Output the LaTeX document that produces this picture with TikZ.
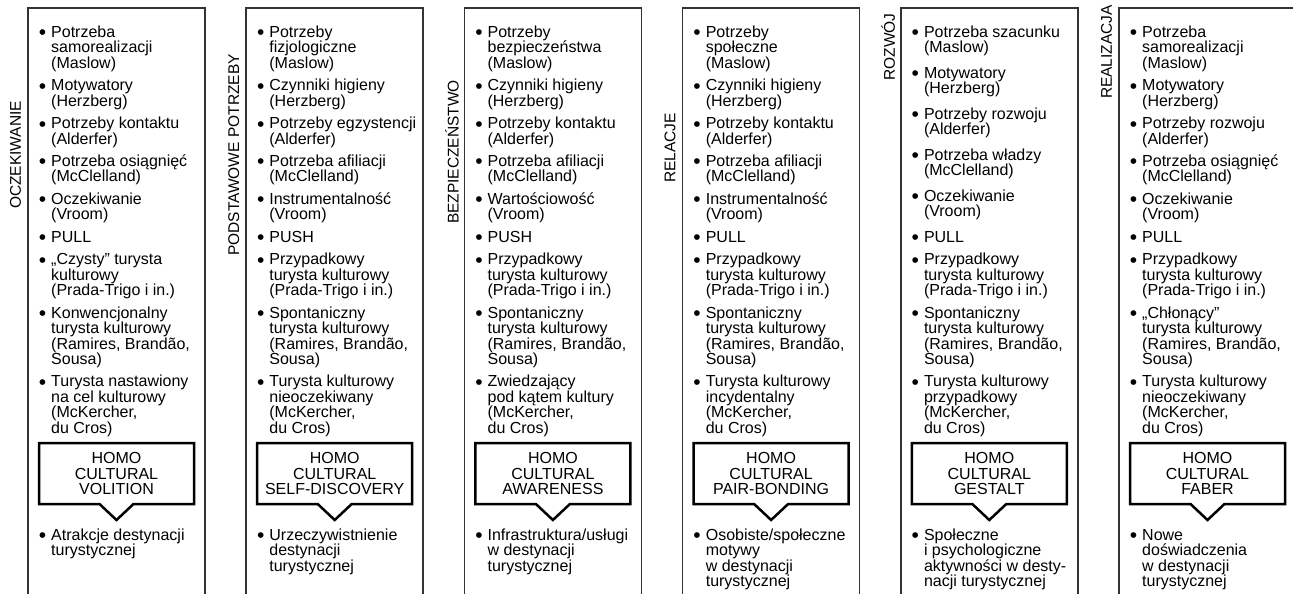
\documentclass[tikz,border=0pt]{standalone}
\usepackage{fontspec}
\setmainfont{Liberation Sans}
\usetikzlibrary{positioning,shapes.callouts}

% punktor (z podporka u gory) i podporka na dole
\newcommand{\pkt}{\rule{0pt}{12.5pt}\llap{\raisebox{-2.5pt}{\fontsize{21}{21}\selectfont\textbullet}\hspace{5pt}}}
\newcommand{\kon}{\rule[-4.5pt]{0pt}{0pt}}

\begin{document}
\begin{tikzpicture}[x=1pt, y=-1pt, node distance=5pt,
    every node/.style={font=\fontsize{16}{15.5}\selectfont, inner sep=0pt},
    ramka/.style={line width=1.6pt, draw=black!80},
    etykieta/.style={rotate=90, font=\fontsize{15.5}{15.5}\selectfont},
    pozycja/.style={anchor=north west, align=left},
    pod/.style={below=of #1.south west, anchor=north west, align=left},
    podl/.style={below=8.1pt of #1.south west, anchor=north west, align=left},
    podhomo/.style={below=23.5pt of #1.south west, xshift=12pt, anchor=north west, align=left},
    dymek/.style={rectangle callout, draw=black, line width=2.5pt, fill=white,
        minimum width=155pt, minimum height=61pt, outer sep=0pt, align=center,
        callout pointer width=34pt},
    ]
    \useasboundingbox (0,0) rectangle (1293,594);

    % ramki, etykiety i dymki kolumn
    \foreach \k/\n/\lab/\ly/\homo in {0/a/OCZEKIWANIE/155/VOLITION,
        1/b/PODSTAWOWE POTRZEBY/155/SELF-DISCOVERY, 2/c/BEZPIECZEŃSTWO/152/AWARENESS,
        3/d/RELACJE/148/PAIR-BONDING, 4/e/ROZWÓJ/47/GESTALT, 5/f/REALIZACJA/52/FABER}{
        \pgfmathsetmacro{\xl}{28+218.2*\k}
        \draw[ramka] (\xl,600) -- (\xl,8) -- (\xl+177,8) -- (\xl+177,600);
        \node[etykieta] (lab\n) at (\xl-12.5,\ly) {\lab};
        \coordinate (start\n) at (\xl+23,24.5);
        \node[dymek, callout absolute pointer={(\xl+88.5,520)}] (homo\n)
            at (\xl+88.5,473.5) {HOMO\\CULTURAL\\\homo};
    }

    % OCZEKIWANIE
    \node[pozycja] (a1) at (starta) {\pkt Potrzeba\\samorealizacji\\(Maslow)\kon};
    \node[pod=a1] (a2) {\pkt Motywatory\\(Herzberg)\kon};
    \node[pod=a2] (a3) {\pkt Potrzeby kontaktu\\(Alderfer)\kon};
    \node[pod=a3] (a4) {\pkt Potrzeba osiągnięć\\(McClelland)\kon};
    \node[pod=a4] (a5) {\pkt Oczekiwanie\\(Vroom)\kon};
    \node[pod=a5] (a6) {\pkt PULL\kon};
    \node[pod=a6] (a7) {\pkt „Czysty” turysta\\kulturowy\\(Prada-Trigo i in.)\kon};
    \node[pod=a7] (a8) {\pkt Konwencjonalny\\turysta kulturowy\\(Ramires, Brandão,\\Sousa)\kon};
    \node[pod=a8] (a9) {\pkt Turysta nastawiony\\na cel kulturowy\\(McKercher,\\du Cros)\kon};
    \node[podhomo=homoa] (a10) {\pkt Atrakcje destynacji\\turystycznej\kon};

    % PODSTAWOWE POTRZEBY
    \node[pozycja] (b1) at (startb) {\pkt Potrzeby\\fizjologiczne\\(Maslow)\kon};
    \node[pod=b1] (b2) {\pkt Czynniki higieny\\(Herzberg)\kon};
    \node[pod=b2] (b3) {\pkt Potrzeby egzystencji\\(Alderfer)\kon};
    \node[pod=b3] (b4) {\pkt Potrzeba afiliacji\\(McClelland)\kon};
    \node[pod=b4] (b5) {\pkt Instrumentalność\\(Vroom)\kon};
    \node[pod=b5] (b6) {\pkt PUSH\kon};
    \node[pod=b6] (b7) {\pkt Przypadkowy\\turysta kulturowy\\(Prada-Trigo i in.)\kon};
    \node[pod=b7] (b8) {\pkt Spontaniczny\\turysta kulturowy\\(Ramires, Brandão,\\Sousa)\kon};
    \node[pod=b8] (b9) {\pkt Turysta kulturowy\\nieoczekiwany\\(McKercher,\\du Cros)\kon};
    \node[podhomo=homob] (b10) {\pkt Urzeczywistnienie\\destynacji\\turystycznej\kon};

    % BEZPIECZENSTWO
    \node[pozycja] (c1) at (startc) {\pkt Potrzeby\\bezpieczeństwa\\(Maslow)\kon};
    \node[pod=c1] (c2) {\pkt Czynniki higieny\\(Herzberg)\kon};
    \node[pod=c2] (c3) {\pkt Potrzeby kontaktu\\(Alderfer)\kon};
    \node[pod=c3] (c4) {\pkt Potrzeba afiliacji\\(McClelland)\kon};
    \node[pod=c4] (c5) {\pkt Wartościowość\\(Vroom)\kon};
    \node[pod=c5] (c6) {\pkt PUSH\kon};
    \node[pod=c6] (c7) {\pkt Przypadkowy\\turysta kulturowy\\(Prada-Trigo i in.)\kon};
    \node[pod=c7] (c8) {\pkt Spontaniczny\\turysta kulturowy\\(Ramires, Brandão,\\Sousa)\kon};
    \node[pod=c8] (c9) {\pkt Zwiedzający\\pod kątem kultury\\(McKercher,\\du Cros)\kon};
    \node[podhomo=homoc] (c10) {\pkt Infrastruktura/usługi\\w destynacji\\turystycznej\kon};

    % RELACJE
    \node[pozycja] (d1) at (startd) {\pkt Potrzeby\\społeczne\\(Maslow)\kon};
    \node[pod=d1] (d2) {\pkt Czynniki higieny\\(Herzberg)\kon};
    \node[pod=d2] (d3) {\pkt Potrzeby kontaktu\\(Alderfer)\kon};
    \node[pod=d3] (d4) {\pkt Potrzeba afiliacji\\(McClelland)\kon};
    \node[pod=d4] (d5) {\pkt Instrumentalność\\(Vroom)\kon};
    \node[pod=d5] (d6) {\pkt PULL\kon};
    \node[pod=d6] (d7) {\pkt Przypadkowy\\turysta kulturowy\\(Prada-Trigo i in.)\kon};
    \node[pod=d7] (d8) {\pkt Spontaniczny\\turysta kulturowy\\(Ramires, Brandão,\\Sousa)\kon};
    \node[pod=d8] (d9) {\pkt Turysta kulturowy\\incydentalny\\(McKercher,\\du Cros)\kon};
    \node[podhomo=homod] (d10) {\pkt Osobiste/społeczne\\motywy\\w destynacji\\turystycznej\kon};

    % ROZWOJ
    \node[pozycja] (e1) at (starte) {\pkt Potrzeba szacunku\\(Maslow)\kon};
    \node[podl=e1] (e2) {\pkt Motywatory\\(Herzberg)\kon};
    \node[podl=e2] (e3) {\pkt Potrzeby rozwoju\\(Alderfer)\kon};
    \node[podl=e3] (e4) {\pkt Potrzeba władzy\\(McClelland)\kon};
    \node[podl=e4] (e5) {\pkt Oczekiwanie\\(Vroom)\kon};
    \node[podl=e5] (e6) {\pkt PULL\kon};
    \node[pod=e6] (e7) {\pkt Przypadkowy\\turysta kulturowy\\(Prada-Trigo i in.)\kon};
    \node[pod=e7] (e8) {\pkt Spontaniczny\\turysta kulturowy\\(Ramires, Brandão,\\Sousa)\kon};
    \node[pod=e8] (e9) {\pkt Turysta kulturowy\\przypadkowy\\(McKercher,\\du Cros)\kon};
    \node[podhomo=homoe] (e10) {\pkt Społeczne\\i psychologiczne\\aktywności w desty-\\nacji turystycznej\kon};

    % REALIZACJA
    \node[pozycja] (f1) at (startf) {\pkt Potrzeba\\samorealizacji\\(Maslow)\kon};
    \node[pod=f1] (f2) {\pkt Motywatory\\(Herzberg)\kon};
    \node[pod=f2] (f3) {\pkt Potrzeby rozwoju\\(Alderfer)\kon};
    \node[pod=f3] (f4) {\pkt Potrzeba osiągnięć\\(McClelland)\kon};
    \node[pod=f4] (f5) {\pkt Oczekiwanie\\(Vroom)\kon};
    \node[pod=f5] (f6) {\pkt PULL\kon};
    \node[pod=f6] (f7) {\pkt Przypadkowy\\turysta kulturowy\\(Prada-Trigo i in.)\kon};
    \node[pod=f7] (f8) {\pkt „Chłonący”\\turysta kulturowy\\(Ramires, Brandão,\\Sousa)\kon};
    \node[pod=f8] (f9) {\pkt Turysta kulturowy\\nieoczekiwany\\(McKercher,\\du Cros)\kon};
    \node[podhomo=homof] (f10) {\pkt Nowe\\doświadczenia\\w destynacji\\turystycznej\kon};
\end{tikzpicture}
\end{document}
